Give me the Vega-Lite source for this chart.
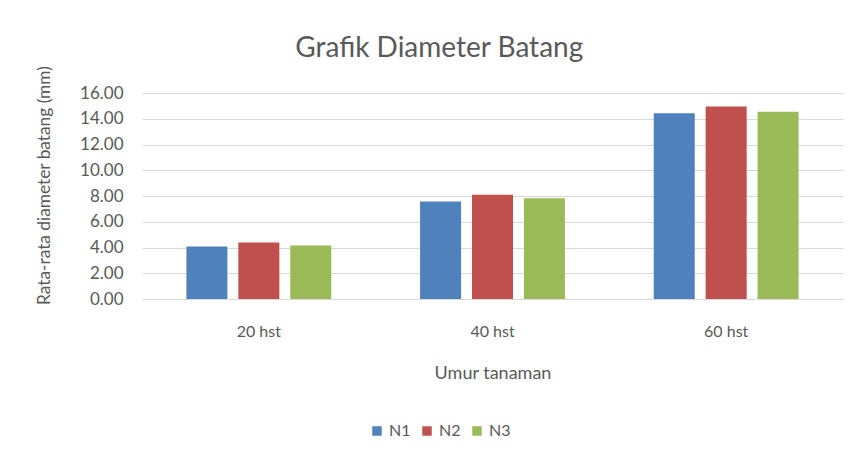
{
  "$schema": "https://vega.github.io/schema/vega-lite/v6.json",
  "autosize": {"type": "none"},
  "padding": {"left": 142, "top": 93, "right": 11, "bottom": 157},
  "width": 701,
  "height": 206,
  "background": "white",
  "title": {
    "text": "Grafik Diameter Batang",
    "anchor": "middle",
    "frame": "bounds",
    "font": "Lato",
    "fontSize": 28,
    "fontWeight": "normal",
    "color": "#595959",
    "offset": 2
  },
  "data": {
    "values": [
      {"umur": "20 hst", "perlakuan": "N1", "diameter": 4.08},
      {"umur": "20 hst", "perlakuan": "N2", "diameter": 4.39},
      {"umur": "20 hst", "perlakuan": "N3", "diameter": 4.16},
      {"umur": "40 hst", "perlakuan": "N1", "diameter": 7.57},
      {"umur": "40 hst", "perlakuan": "N2", "diameter": 8.09},
      {"umur": "40 hst", "perlakuan": "N3", "diameter": 7.83},
      {"umur": "60 hst", "perlakuan": "N1", "diameter": 14.42},
      {"umur": "60 hst", "perlakuan": "N2", "diameter": 14.96},
      {"umur": "60 hst", "perlakuan": "N3", "diameter": 14.54}
    ]
  },
  "mark": {"type": "bar"},
  "encoding": {
    "x": {
      "field": "umur",
      "type": "nominal",
      "scale": {"paddingInner": 0.38, "paddingOuter": 0.19},
      "axis": {
        "title": "Umur tanaman",
        "labelAngle": 0,
        "ticks": false,
        "domain": true,
        "domainColor": "#d9d9d9",
        "domainWidth": 1,
        "labelFont": "Lato",
        "labelFontSize": 16,
        "labelColor": "#595959",
        "labelPadding": 24,
        "titleFont": "Lato",
        "titleFontSize": 18,
        "titleFontWeight": "normal",
        "titleColor": "#595959",
        "titlePadding": 25
      }
    },
    "xOffset": {
      "field": "perlakuan",
      "type": "nominal",
      "scale": {"paddingInner": 0.21, "paddingOuter": 0}
    },
    "y": {
      "field": "diameter",
      "type": "quantitative",
      "scale": {"domain": [0, 16], "nice": false},
      "axis": {
        "title": "Rata-rata diameter batang (mm)",
        "values": [0, 2, 4, 6, 8, 10, 12, 14, 16],
        "format": ".2f",
        "ticks": false,
        "domain": false,
        "gridColor": "#d9d9d9",
        "gridWidth": 1,
        "labelFont": "Lato",
        "labelFontSize": 17,
        "labelColor": "#595959",
        "labelPadding": 19,
        "titleFont": "Lato",
        "titleFontSize": 17.3,
        "titleFontWeight": "normal",
        "titleColor": "#595959",
        "titlePadding": 26,
        "titleY": 92
      }
    },
    "color": {
      "field": "perlakuan",
      "type": "nominal",
      "scale": {"domain": ["N1", "N2", "N3"], "range": ["#4F81BD", "#C0504D", "#9BBB59"]},
      "legend": {
        "title": null,
        "orient": "none",
        "direction": "horizontal",
        "legendX": 227,
        "legendY": 330,
        "symbolType": "square",
        "symbolSize": 90,
        "symbolStrokeWidth": 0,
        "labelFont": "Lato",
        "labelFontSize": 16,
        "labelColor": "#595959",
        "labelOffset": 4,
        "columnPadding": 8
      }
    }
  },
  "config": {
    "view": {"stroke": null}
  }
}
